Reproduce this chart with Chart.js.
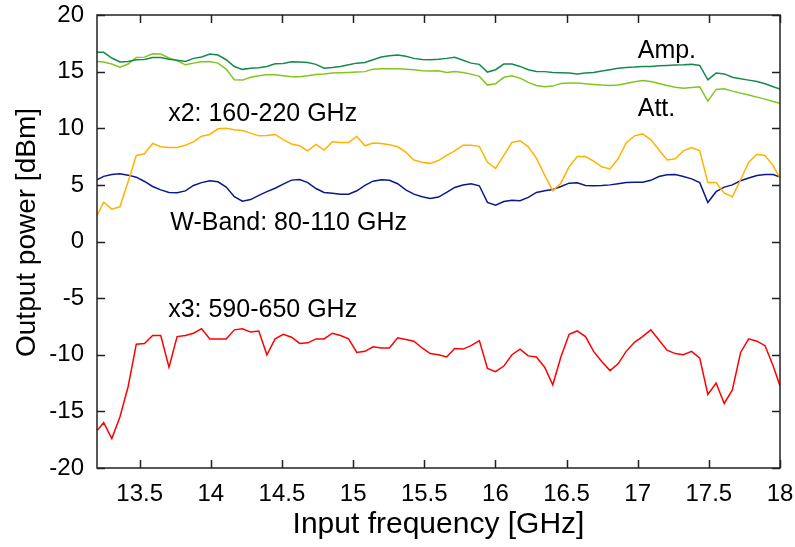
<!DOCTYPE html>
<html>
<head>
<meta charset="utf-8">
<script src="https://cdn.jsdelivr.net/npm/chart.js@4.4.1/dist/chart.umd.min.js"></script>
<style>
html,body{margin:0;padding:0;background:#fff;}
#wrap{width:795px;height:547px;}
</style>
</head>
<body>
<div id="wrap"><canvas id="c" width="795" height="547"></canvas></div>
<script>
// Input frequency [GHz]
const freq = [13.2,13.247,13.304,13.361,13.419,13.476,13.534,13.591,13.648,13.706,
  13.763,13.821,13.878,13.935,13.993,14.050,14.108,14.165,14.222,14.280,
  14.337,14.394,14.452,14.509,14.567,14.624,14.681,14.739,14.796,14.854,
  14.911,14.968,15.026,15.083,15.140,15.198,15.255,15.313,15.370,15.427,
  15.485,15.542,15.600,15.657,15.714,15.772,15.829,15.887,15.944,16.001,
  16.059,16.116,16.173,16.231,16.288,16.346,16.403,16.460,16.518,16.575,
  16.633,16.690,16.747,16.805,16.862,16.919,16.977,17.034,17.092,17.149,
  17.206,17.264,17.321,17.379,17.436,17.493,17.551,17.608,17.665,17.723,
  17.780,17.838,17.895,17.952,18.0];

// Output power [dBm]
const ampPower = [16.7,16.7,16.2,15.85,15.9,16.05,16.08,16.25,16.25,16.1,
  16.0,15.9,16.17,16.3,16.55,16.46,16.05,15.45,15.2,15.3,
  15.35,15.45,15.7,15.72,15.87,15.85,15.8,15.64,15.3,15.37,
  15.46,15.6,15.75,15.8,16.05,16.29,16.4,16.46,16.35,16.17,
  16.08,16.05,16.1,16.17,16.26,16.0,15.75,15.64,14.96,15.17,
  15.67,15.67,15.46,15.17,15.02,15.0,14.93,14.9,14.87,14.8,
  14.87,14.93,15.05,15.17,15.3,15.37,15.4,15.46,15.46,15.52,
  15.55,15.58,15.6,15.64,15.55,14.28,14.87,14.8,14.5,14.37,
  14.25,14.13,13.93,13.66,13.46];

const attPower = [15.9,15.84,15.67,15.4,15.67,16.25,16.28,16.58,16.55,16.2,
  15.96,15.6,15.75,15.87,15.9,15.75,15.23,14.28,14.25,14.5,
  14.64,14.72,14.72,14.64,14.55,14.55,14.64,14.75,14.8,14.87,
  14.9,14.93,14.96,15.0,15.22,15.25,15.25,15.25,15.22,15.17,
  15.08,15.05,15.08,14.93,15.02,14.93,14.78,14.58,13.81,13.93,
  14.5,14.64,14.43,14.05,13.78,13.66,13.72,13.96,13.99,13.99,
  13.93,13.87,13.81,13.78,13.81,13.96,14.1,14.22,14.13,13.96,
  13.78,13.63,13.54,13.6,13.66,12.4,13.43,13.49,13.28,13.1,
  12.93,12.75,12.57,12.37,12.2];

const x2Power = [2.27,3.48,2.86,3.06,5.3,7.6,7.75,8.66,8.37,8.3,
  8.3,8.5,8.8,9.3,9.45,9.95,10.0,9.86,9.8,9.57,
  9.33,9.36,9.45,9.0,8.6,8.45,8.0,8.57,8.07,8.8,
  8.75,8.75,9.28,8.45,8.7,8.66,8.54,8.36,7.9,7.2,
  7.0,6.9,7.15,7.6,8.0,8.5,8.5,8.4,7.0,6.45,
  7.6,8.75,8.9,8.36,7.36,5.86,4.47,5.15,6.6,7.5,
  7.5,7.1,6.6,6.4,7.3,8.7,9.33,9.5,9.0,8.1,
  7.2,7.3,8.0,8.3,8.0,5.2,5.2,4.27,3.95,5.45,
  7.0,7.7,7.6,6.7,5.6];

const wBandPower = [5.45,5.75,5.92,5.98,5.86,5.68,5.3,4.86,4.56,4.33,
  4.3,4.47,4.95,5.2,5.36,5.27,4.8,3.95,3.56,3.7,
  4.07,4.4,4.7,5.06,5.42,5.48,5.2,4.68,4.33,4.27,
  4.18,4.18,4.48,4.95,5.33,5.45,5.4,5.1,4.56,4.18,
  3.95,3.8,3.92,4.33,4.77,4.98,5.1,4.92,3.45,3.2,
  3.53,3.65,3.6,3.9,4.33,4.48,4.6,4.86,5.15,5.18,
  4.95,4.92,4.95,5.0,5.1,5.2,5.24,5.24,5.4,5.74,
  5.9,5.92,5.74,5.53,5.2,3.45,4.4,4.8,5.0,5.36,
  5.6,5.83,5.92,5.92,5.68];

const x3Power = [-16.7,-16.0,-17.4,-15.5,-12.8,-9.07,-9.0,-8.3,-8.3,-11.1,
  -8.4,-8.3,-8.1,-7.7,-8.6,-8.6,-8.6,-7.8,-7.7,-8.0,
  -7.9,-10.0,-8.6,-8.2,-8.45,-9.0,-8.95,-8.6,-8.6,-8.1,
  -8.3,-8.6,-9.8,-9.7,-9.3,-9.4,-9.4,-8.5,-8.65,-8.8,
  -9.4,-9.9,-10.0,-10.2,-9.45,-9.5,-9.2,-8.75,-11.2,-11.5,
  -11.0,-10.0,-9.5,-10.1,-10.2,-11.1,-12.65,-10.2,-8.2,-7.9,
  -8.4,-9.7,-10.6,-11.4,-10.8,-9.7,-8.9,-8.4,-7.8,-8.7,
  -9.6,-9.9,-10.0,-9.7,-10.3,-13.5,-12.5,-14.3,-13.1,-9.8,
  -8.6,-8.8,-9.2,-11.0,-12.75];

// Tick values and labels
const xTickValues = [13.5,14,14.5,15,15.5,16,16.5,17,17.5,18];
const xTickLabels = ['13.5','14','14.5','15','15.5','16','16.5','17','17.5','18'];
const yTickValues = [-20,-15,-10,-5,0,5,10,15,20];
const yTickLabels = ['-20','-15','-10','-5','0','5','10','15','20'];

// Axis titles
const xTitle = 'Input frequency [GHz]';
const yTitle = 'Output power [dBm]';

// Series names
const seriesNames = ['Amp.','Att.','x2: 160-220 GHz','W-Band: 80-110 GHz','x3: 590-650 GHz'];

// Text labels placed in data coordinates
const labelTexts = ['Amp.','Att.','x2: 160-220 GHz','W-Band: 80-110 GHz','x3: 590-650 GHz'];
const labelX = [17.0,17.0,13.70,13.715,13.70];
const labelY = [16.2,11.1,10.6,1.03,-6.65];

const FONT = '"Liberation Sans", Arial, Helvetica, sans-serif';
const colors = ['#168a4c','#82c520','#ffb300','#0b188c','#ff0000'];
const seriesData = [ampPower, attPower, x2Power, wBandPower, x3Power];

const datasets = seriesData.map((arr,i)=>({
  label: seriesNames[i],
  data: arr.map((v,j)=>({x: freq[j], y: v})),
  borderColor: colors[i],
  backgroundColor: colors[i],
  borderWidth: 1.5,
  pointRadius: 0,
  tension: 0,
  fill: false
}));

const framePlugin = {
  id: 'frame',
  afterDraw(chart){
    const ctx = chart.ctx;
    const a = chart.chartArea;
    const xs = chart.scales.x, ys = chart.scales.y;
    ctx.save();
    ctx.strokeStyle = '#222';
    ctx.lineWidth = 1.5;
    const tl = 8;
    ctx.beginPath();
    xTickValues.forEach(v=>{
      const px = Math.round(xs.getPixelForValue(v)) + 0.5;
      ctx.moveTo(px, a.bottom); ctx.lineTo(px, a.bottom - tl);
      ctx.moveTo(px, a.top); ctx.lineTo(px, a.top + tl);
    });
    yTickValues.forEach(v=>{
      const py = Math.round(ys.getPixelForValue(v)) + 0.5;
      ctx.moveTo(a.left, py); ctx.lineTo(a.left + tl, py);
      ctx.moveTo(a.right, py); ctx.lineTo(a.right - tl, py);
    });
    ctx.stroke();
    ctx.strokeRect(a.left, a.top, a.right - a.left, a.bottom - a.top);
    ctx.fillStyle = '#000';
    ctx.font = '25px ' + FONT;
    ctx.textAlign = 'left';
    ctx.textBaseline = 'alphabetic';
    labelTexts.forEach((t,i)=>{
      ctx.fillText(t, xs.getPixelForValue(labelX[i]), ys.getPixelForValue(labelY[i]));
    });
    // y-axis title
    ctx.save();
    ctx.translate(27, (a.top + a.bottom) / 2 - 9);
    ctx.rotate(-Math.PI / 2);
    ctx.font = '28px ' + FONT;
    ctx.textAlign = 'center';
    ctx.textBaseline = 'middle';
    ctx.fillText(yTitle, 0, 0);
    ctx.restore();
    ctx.restore();
  }
};

new Chart(document.getElementById('c'), {
  type: 'line',
  data: { datasets },
  options: {
    responsive: false,
    devicePixelRatio: 1,
    animation: false,
    layout: { padding: { top: 15, right: 15, left: 0, bottom: 0 } },
    plugins: { legend: { display: false }, tooltip: { enabled: false } },
    scales: {
      x: {
        type: 'linear',
        min: 13.2, max: 18,
        afterBuildTicks: s => { s.ticks = xTickValues.map(v=>({value:v})); },
        afterFit: s => { s.height = 79; s.paddingLeft = 0; s.paddingRight = 0; },
        grid: { display: false, drawTicks: false },
        border: { display: false },
        ticks: {
          autoSkip: false, maxRotation: 0,
          color: '#000', padding: 12,
          font: { family: FONT, size: 24 },
          callback: (v) => { const i = xTickValues.indexOf(v); return i >= 0 ? xTickLabels[i] : ''; }
        },
        title: { display: true, text: xTitle, color: '#000',
          font: { family: FONT, size: 30 }, padding: { top: 0, bottom: 4 } }
      },
      y: {
        type: 'linear',
        min: -20, max: 20,
        afterBuildTicks: s => { s.ticks = yTickValues.map(v=>({value:v})); },
        afterFit: s => { s.width = 97; s.paddingTop = 0; s.paddingBottom = 0; },
        grid: { display: false, drawTicks: false },
        border: { display: false },
        ticks: {
          autoSkip: false,
          color: '#000', padding: 13,
          font: { family: FONT, size: 24 },
          callback: (v) => { const i = yTickValues.indexOf(v); return i >= 0 ? yTickLabels[i] : ''; }
        },
        title: { display: false }
      }
    }
  },
  plugins: [framePlugin]
});
</script>
</body>
</html>
